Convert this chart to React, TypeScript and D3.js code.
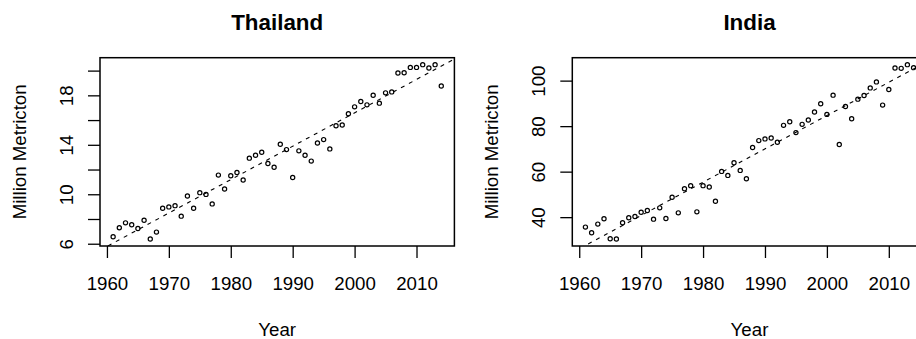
import React, { useEffect, useRef } from "react";
import * as d3 from "d3";

const years = d3.range(1961, 2015);

const thailand = [
  6.56, 7.29, 7.69, 7.53, 7.23, 7.9, 6.38, 6.94, 8.87, 8.98,
  9.08, 8.23, 9.86, 8.87, 10.13, 9.99, 9.22, 11.55, 10.42, 11.5,
  11.76, 11.15, 12.92, 13.16, 13.4, 12.49, 12.19, 14.04, 13.61, 11.36,
  13.51, 13.16, 12.68, 14.15, 14.42, 13.67, 15.54, 15.6, 16.51, 17.07,
  17.5, 17.23, 18.01, 17.37, 18.2, 18.28, 19.81, 19.83, 20.26, 20.26,
  20.48, 20.21, 20.48, 18.76,
];

const india = [
  35.63, 33.15, 36.94, 39.27, 30.53, 30.39, 37.52, 39.71, 40.29, 42.18,
  42.91, 39.13, 44.08, 39.42, 48.74, 41.89, 52.53, 53.84, 42.33, 53.84,
  53.26, 46.99, 60.1, 58.35, 63.89, 60.54, 56.9, 70.59, 73.65, 74.38,
  74.81, 72.92, 80.35, 81.95, 77.15, 80.79, 82.68, 86.18, 89.82, 85.16,
  93.61, 71.9, 88.65, 83.26, 91.86, 93.46, 96.81, 99.43, 89.24, 96.08,
  105.55, 105.4, 107.01, 105.7,
];

const xTicks = [1960, 1970, 1980, 1990, 2000, 2010];
const thaiYTicks = [6, 8, 10, 12, 14, 16, 18, 20];
const thaiYLabels = [6, 10, 14, 18];
const indiaYTicks = [40, 60, 80, 100];
const indiaYLabels = [40, 60, 80, 100];

const panels = [
  { title: "Thailand", values: thailand, yTicks: thaiYTicks, yLabels: thaiYLabels, left: 100 },
  { title: "India", values: india, yTicks: indiaYTicks, yLabels: indiaYLabels, left: 572.3 },
];

const FONT = "'Liberation Sans', Arial, sans-serif";
const FS = 18.7;

// R-style axis range: data range extended by 4% on each side
const rExtent = (vals: number[]): [number, number] => {
  const [lo, hi] = d3.extent(vals) as [number, number];
  const pad = (hi - lo) * 0.04;
  return [lo - pad, hi + pad];
};

const App = () => {
  const svgRef = useRef<SVGSVGElement>(null);

  useEffect(() => {
    const svg = d3.select(svgRef.current);
    svg.selectAll("*").remove();

    const top = 57.7,
      bottom = 246,
      plotW = 354.4;

    panels.forEach((p, i) => {
      const x = d3.scaleLinear().domain(rExtent(years)).range([p.left, p.left + plotW]);
      const y = d3.scaleLinear().domain(rExtent(p.values)).range([bottom, top]);
      const g = svg.append("g");

      // clip for the fitted line
      svg
        .append("clipPath")
        .attr("id", `clip${i}`)
        .append("rect")
        .attr("x", p.left)
        .attr("y", top)
        .attr("width", plotW)
        .attr("height", bottom - top);

      // x axis
      g.append("g")
        .attr("transform", `translate(0,${bottom})`)
        .call(d3.axisBottom(x).tickValues(xTicks).tickSize(12).tickPadding(18.7).tickFormat(d3.format("d")))
        .call((a) => a.select(".domain").remove())
        .call((a) => a.selectAll(".tick line").attr("stroke", "#000").attr("stroke-width", 1.3))
        .call((a) =>
          a.selectAll("text").attr("fill", "#000").attr("font-size", FS).attr("font-family", FONT)
        );

      // y axis
      g.append("g")
        .attr("transform", `translate(${p.left},0)`)
        .call(d3.axisLeft(y).tickValues(p.yTicks).tickSize(12))
        .call((a) => a.select(".domain").remove())
        .call((a) => a.selectAll(".tick line").attr("stroke", "#000").attr("stroke-width", 1.3))
        .call((a) =>
          a
            .selectAll<SVGTextElement, number>("text")
            .text((d) => (p.yLabels.includes(d) ? String(d) : ""))
            .attr("transform", "rotate(-90)")
            .attr("x", 0)
            .attr("y", -27.5)
            .attr("dy", 0)
            .attr("text-anchor", "middle")
            .attr("fill", "#000")
            .attr("font-size", FS)
            .attr("font-family", FONT)
        );

      // least squares fit
      const mx = d3.mean(years) as number;
      const my = d3.mean(p.values) as number;
      let sxy = 0,
        sxx = 0;
      years.forEach((yr, k) => {
        sxy += (yr - mx) * (p.values[k] - my);
        sxx += (yr - mx) * (yr - mx);
      });
      const slope = sxy / sxx;
      const icpt = my - slope * mx;
      const [x0, x1] = x.domain();

      g.append("line")
        .attr("clip-path", `url(#clip${i})`)
        .attr("x1", x(x0))
        .attr("x2", x(x1))
        .attr("y1", y(icpt + slope * x0))
        .attr("y2", y(icpt + slope * x1))
        .attr("stroke", "#000")
        .attr("stroke-width", 1.1)
        .attr("stroke-dasharray", "4,5");

      // points
      g.selectAll("circle")
        .data(years)
        .enter()
        .append("circle")
        .attr("cx", (d) => x(d))
        .attr("cy", (d, k) => y(p.values[k]))
        .attr("r", 2.1)
        .attr("fill", "none")
        .attr("stroke", "#000")
        .attr("stroke-width", 1.2);

      // box
      g.append("rect")
        .attr("x", p.left)
        .attr("y", top)
        .attr("width", plotW)
        .attr("height", bottom - top)
        .attr("fill", "none")
        .attr("stroke", "#000")
        .attr("stroke-width", 1.5);

      const cx = p.left + plotW / 2;

      g.append("text")
        .attr("x", cx)
        .attr("y", 30)
        .attr("text-anchor", "middle")
        .attr("font-family", FONT)
        .attr("font-weight", "bold")
        .attr("font-size", 22.4)
        .text(p.title);

      g.append("text")
        .attr("x", cx)
        .attr("y", 335.5)
        .attr("text-anchor", "middle")
        .attr("font-family", FONT)
        .attr("font-size", FS)
        .text("Year");

      g.append("text")
        .attr("transform", `translate(${p.left - 74.5},${(top + bottom) / 2}) rotate(-90)`)
        .attr("text-anchor", "middle")
        .attr("font-family", FONT)
        .attr("font-size", FS)
        .text("Million Metricton");
    });
  }, []);

  return (
    <svg
      ref={svgRef}
      width={916}
      height={339}
      style={{ position: "absolute", left: 0, top: 0, background: "#fff", overflow: "hidden" }}
    ></svg>
  );
};

export default App;
